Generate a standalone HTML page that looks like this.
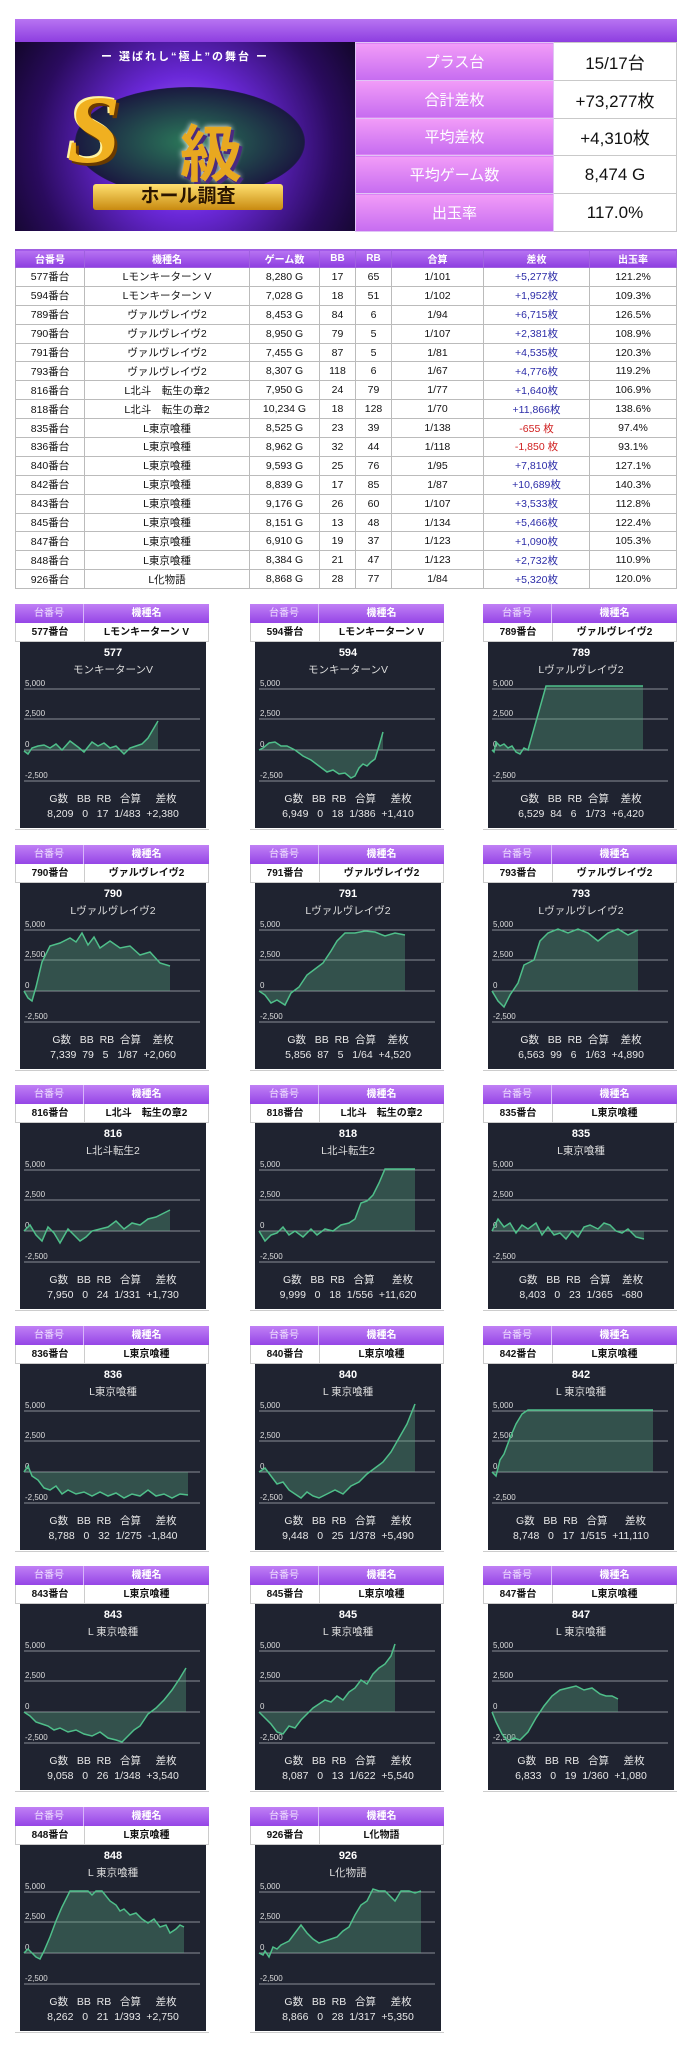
<!DOCTYPE html>
<html><head><meta charset="utf-8">
<style>
*{margin:0;padding:0;box-sizing:border-box}
body{width:696px;height:2048px;background:#fff;position:relative;overflow:hidden;font-family:"Liberation Sans","Noto Sans CJK JP",sans-serif;color:#111}
.abs{position:absolute}
.bar{left:15px;top:19px;width:662px;height:23px;background:linear-gradient(#b874f2,#8d3ee0)}
.banner{left:15px;top:42px;width:340px;height:189px;background:radial-gradient(circle at 50% 55%,#b57cff 0%,#6a28d8 35%,#2a0b5e 75%,#12062a 100%);overflow:hidden}
.stats{left:355px;top:42px;width:322px;height:189px;border-collapse:collapse}
.stats td{height:37.8px;border:1px solid #c9c9c9;text-align:center;font-size:15px}
.stats td.l{width:198px;background:linear-gradient(#f29cf8,#c66cf0);color:#fff;border-color:#e0c4f5}
.stats td.v{background:#fff;font-size:17px}
.mt{left:15px;top:249px;width:662px;border-collapse:collapse;font-size:10.5px}
.mt th{height:18px;background:linear-gradient(#b874f2,#8d3ee0);color:#fff;font-weight:bold;border:1px solid #a060e0;font-size:10px}
.mt td{height:18.9px;border:1px solid #bbb;text-align:center}
.p{color:#2c2ca8}.n{color:#d02020}
.card{position:absolute;width:194px;height:226px;border-bottom:1px solid #ccc}
.ch,.cs{display:flex;height:19px;font-size:10px;align-items:center}
.ch{background:linear-gradient(#c080f5,#9545e6);color:#fff;font-weight:bold}
.cs{background:#fff;border:1px solid #ccc;border-top:none;font-weight:bold}
.c1{width:69px;text-align:center;border-right:1px solid #ccc;height:100%;line-height:19px}
.c2{flex:1;text-align:center;line-height:19px}
.ch .c1{border-color:#d8b5fa;font-weight:normal;color:#f0e0ff}
.cp{position:absolute;left:5px;top:38px;width:186px;height:186px;background:#1f2330;color:#fff}
.cp svg{position:absolute;left:0;top:0}
.t1{position:absolute;top:5px;width:100%;text-align:center;font-size:11px;font-weight:bold}
.t2{position:absolute;top:20px;width:100%;text-align:center;font-size:10.5px;color:#ddd}
.ft{position:absolute;top:150px;width:100%;text-align:center;font-size:10.5px;color:#e8e8e8;line-height:15px;white-space:pre}
</style></head><body>
<div class="abs bar"></div>
<div class="abs banner">
 <div class="abs" style="left:0;top:6px;width:340px;text-align:center;color:#fff;font-size:11px;font-weight:bold;letter-spacing:2px">ー 選ばれし“極上”の舞台 ー</div>
 <div class="abs" style="left:60px;top:45px;width:230px;height:110px;border-radius:50%;background:radial-gradient(#2b7a5a,#1a1a40 70%,transparent 72%)"></div>
 <div class="abs" style="left:52px;top:32px;font-size:96px;font-weight:bold;font-style:italic;color:#f0b020;text-shadow:3px 3px 0 #6a3a00,-2px -2px 0 #fff3a0;font-family:'Liberation Serif',serif">S</div>
 <div class="abs" style="left:165px;top:62px;font-size:62px;font-weight:bold;color:#e8a820;text-shadow:3px 3px 0 #4a2a80,0 0 6px #fff">級</div>
 <div class="abs" style="left:78px;top:142px;width:190px;height:26px;background:linear-gradient(#ffe070,#c88a10);border-radius:3px;text-align:center;font-size:19px;font-weight:bold;color:#2a1500;line-height:26px">ホール調査</div>
</div>
<table class="abs stats">
<tr><td class="l">プラス台</td><td class="v">15/17台</td></tr>
<tr><td class="l">合計差枚</td><td class="v">+73,277枚</td></tr>
<tr><td class="l">平均差枚</td><td class="v">+4,310枚</td></tr>
<tr><td class="l">平均ゲーム数</td><td class="v">8,474 G</td></tr>
<tr><td class="l">出玉率</td><td class="v">117.0%</td></tr>
</table>
<table class="abs mt">
<tr><th style="width:69px">台番号</th><th style="width:165px">機種名</th><th style="width:70px">ゲーム数</th><th style="width:36px">BB</th><th style="width:36px">RB</th><th style="width:92px">合算</th><th style="width:106px">差枚</th><th>出玉率</th></tr>
<tr><td>577番台</td><td>Lモンキーターン V</td><td>8,280 G</td><td>17</td><td>65</td><td>1/101</td><td class="p">+5,277枚</td><td>121.2%</td></tr>
<tr><td>594番台</td><td>Lモンキーターン V</td><td>7,028 G</td><td>18</td><td>51</td><td>1/102</td><td class="p">+1,952枚</td><td>109.3%</td></tr>
<tr><td>789番台</td><td>ヴァルヴレイヴ2</td><td>8,453 G</td><td>84</td><td>6</td><td>1/94</td><td class="p">+6,715枚</td><td>126.5%</td></tr>
<tr><td>790番台</td><td>ヴァルヴレイヴ2</td><td>8,950 G</td><td>79</td><td>5</td><td>1/107</td><td class="p">+2,381枚</td><td>108.9%</td></tr>
<tr><td>791番台</td><td>ヴァルヴレイヴ2</td><td>7,455 G</td><td>87</td><td>5</td><td>1/81</td><td class="p">+4,535枚</td><td>120.3%</td></tr>
<tr><td>793番台</td><td>ヴァルヴレイヴ2</td><td>8,307 G</td><td>118</td><td>6</td><td>1/67</td><td class="p">+4,776枚</td><td>119.2%</td></tr>
<tr><td>816番台</td><td>L北斗　転生の章2</td><td>7,950 G</td><td>24</td><td>79</td><td>1/77</td><td class="p">+1,640枚</td><td>106.9%</td></tr>
<tr><td>818番台</td><td>L北斗　転生の章2</td><td>10,234 G</td><td>18</td><td>128</td><td>1/70</td><td class="p">+11,866枚</td><td>138.6%</td></tr>
<tr><td>835番台</td><td>L東京喰種</td><td>8,525 G</td><td>23</td><td>39</td><td>1/138</td><td class="n">-655 枚</td><td>97.4%</td></tr>
<tr><td>836番台</td><td>L東京喰種</td><td>8,962 G</td><td>32</td><td>44</td><td>1/118</td><td class="n">-1,850 枚</td><td>93.1%</td></tr>
<tr><td>840番台</td><td>L東京喰種</td><td>9,593 G</td><td>25</td><td>76</td><td>1/95</td><td class="p">+7,810枚</td><td>127.1%</td></tr>
<tr><td>842番台</td><td>L東京喰種</td><td>8,839 G</td><td>17</td><td>85</td><td>1/87</td><td class="p">+10,689枚</td><td>140.3%</td></tr>
<tr><td>843番台</td><td>L東京喰種</td><td>9,176 G</td><td>26</td><td>60</td><td>1/107</td><td class="p">+3,533枚</td><td>112.8%</td></tr>
<tr><td>845番台</td><td>L東京喰種</td><td>8,151 G</td><td>13</td><td>48</td><td>1/134</td><td class="p">+5,466枚</td><td>122.4%</td></tr>
<tr><td>847番台</td><td>L東京喰種</td><td>6,910 G</td><td>19</td><td>37</td><td>1/123</td><td class="p">+1,090枚</td><td>105.3%</td></tr>
<tr><td>848番台</td><td>L東京喰種</td><td>8,384 G</td><td>21</td><td>47</td><td>1/123</td><td class="p">+2,732枚</td><td>110.9%</td></tr>
<tr><td>926番台</td><td>L化物語</td><td>8,868 G</td><td>28</td><td>77</td><td>1/84</td><td class="p">+5,320枚</td><td>120.0%</td></tr>
</table>

<!-- grid template -->
<svg width="0" height="0" style="position:absolute"><defs>
<g id="grid" font-family="Liberation Sans,sans-serif" font-size="8" fill="#ddd">
<line x1="4" x2="180" y1="47" y2="47" stroke="#8a8d96" stroke-width="1"/>
<line x1="4" x2="180" y1="77" y2="77" stroke="#8a8d96" stroke-width="1"/>
<line x1="4" x2="180" y1="108" y2="108" stroke="#8a8d96" stroke-width="1"/>
<line x1="4" x2="180" y1="139" y2="139" stroke="#8a8d96" stroke-width="1"/>
</g></defs></svg>

<!-- Row 1 -->
<div class="card" style="left:15px;top:604px"><div class="ch"><span class="c1">台番号</span><span class="c2">機種名</span></div><div class="cs"><span class="c1">577番台</span><span class="c2">Lモンキーターン V</span></div>
<div class="cp"><svg width="186" height="186"><use href="#grid"/><text x="5" y="44" font-size="8" fill="#ddd">5,000</text><text x="5" y="74" font-size="8" fill="#ddd">2,500</text><text x="5" y="105" font-size="8" fill="#ddd">0</text><text x="5" y="136" font-size="8" fill="#ddd">-2,500</text>
<polygon fill="rgba(90,170,130,.35)" points="4,108 4,109 8,112 12,106 18,104 24,103 30,106 36,102 42,108 50,99 58,105 64,110 72,100 78,104 84,101 90,106 96,104 104,112 110,106 116,104 122,102 128,96 138,79 138,108"/><polyline fill="none" stroke="#4fbf8a" stroke-width="1.5" points="4,109 8,112 12,106 18,104 24,103 30,106 36,102 42,108 50,99 58,105 64,110 72,100 78,104 84,101 90,106 96,104 104,112 110,106 116,104 122,102 128,96 138,79"/></svg>
<div class="t1">577</div><div class="t2">モンキーターンV</div><div class="ft">G数   BB  RB   合算     差枚
8,209   0   17  1/483  +2,380</div></div></div>

<div class="card" style="left:250px;top:604px"><div class="ch"><span class="c1">台番号</span><span class="c2">機種名</span></div><div class="cs"><span class="c1">594番台</span><span class="c2">Lモンキーターン V</span></div>
<div class="cp"><svg width="186" height="186"><use href="#grid"/><text x="5" y="44" font-size="8" fill="#ddd">5,000</text><text x="5" y="74" font-size="8" fill="#ddd">2,500</text><text x="5" y="105" font-size="8" fill="#ddd">0</text><text x="5" y="136" font-size="8" fill="#ddd">-2,500</text>
<polygon fill="rgba(90,170,130,.35)" points="4,108 8,106 14,101 20,100 26,104 32,104 40,108 48,114 56,118 64,124 72,130 78,128 84,132 90,131 96,136 100,134 104,126 108,122 112,124 116,120 120,117 124,104 128,90 128,108"/><polyline fill="none" stroke="#4fbf8a" stroke-width="1.5" points="4,108 8,106 14,101 20,100 26,104 32,104 40,108 48,114 56,118 64,124 72,130 78,128 84,132 90,131 96,136 100,134 104,126 108,122 112,124 116,120 120,117 124,104 128,90"/></svg>
<div class="t1">594</div><div class="t2">モンキーターンV</div><div class="ft">G数   BB  RB   合算     差枚
6,949   0   18  1/386  +1,410</div></div></div>

<div class="card" style="left:483px;top:604px"><div class="ch"><span class="c1">台番号</span><span class="c2">機種名</span></div><div class="cs"><span class="c1">789番台</span><span class="c2">ヴァルヴレイヴ2</span></div>
<div class="cp"><svg width="186" height="186"><use href="#grid"/><text x="5" y="44" font-size="8" fill="#ddd">5,000</text><text x="5" y="74" font-size="8" fill="#ddd">2,500</text><text x="5" y="105" font-size="8" fill="#ddd">0</text><text x="5" y="136" font-size="8" fill="#ddd">-2,500</text>
<polygon fill="rgba(90,170,130,.35)" points="4,108 6,110 8,100 12,104 16,102 20,106 24,104 28,110 32,112 36,106 40,108 58,44 155,44 155,108"/><polyline fill="none" stroke="#4fbf8a" stroke-width="1.5" points="4,108 6,110 8,100 12,104 16,102 20,106 24,104 28,110 32,112 36,106 40,108 58,44 155,44"/></svg>
<div class="t1">789</div><div class="t2">Lヴァルヴレイヴ2</div><div class="ft">G数   BB  RB  合算    差枚
6,529  84   6   1/73  +6,420</div></div></div>

<!-- Row 2 -->
<div class="card" style="left:15px;top:845px"><div class="ch"><span class="c1">台番号</span><span class="c2">機種名</span></div><div class="cs"><span class="c1">790番台</span><span class="c2">ヴァルヴレイヴ2</span></div>
<div class="cp"><svg width="186" height="186"><use href="#grid"/><text x="5" y="44" font-size="8" fill="#ddd">5,000</text><text x="5" y="74" font-size="8" fill="#ddd">2,500</text><text x="5" y="105" font-size="8" fill="#ddd">0</text><text x="5" y="136" font-size="8" fill="#ddd">-2,500</text>
<polygon fill="rgba(90,170,130,.35)" points="4,108 8,115 12,118 16,104 22,79 30,63 40,60 50,55 56,59 62,50 68,62 74,54 80,65 90,58 100,65 110,63 120,72 130,69 140,80 150,83 150,108"/><polyline fill="none" stroke="#4fbf8a" stroke-width="1.5" points="4,108 8,115 12,118 16,104 22,79 30,63 40,60 50,55 56,59 62,50 68,62 74,54 80,65 90,58 100,65 110,63 120,72 130,69 140,80 150,83"/></svg>
<div class="t1">790</div><div class="t2">Lヴァルヴレイヴ2</div><div class="ft">G数   BB  RB  合算    差枚
7,339  79   5   1/87  +2,060</div></div></div>

<div class="card" style="left:250px;top:845px"><div class="ch"><span class="c1">台番号</span><span class="c2">機種名</span></div><div class="cs"><span class="c1">791番台</span><span class="c2">ヴァルヴレイヴ2</span></div>
<div class="cp"><svg width="186" height="186"><use href="#grid"/><text x="5" y="44" font-size="8" fill="#ddd">5,000</text><text x="5" y="74" font-size="8" fill="#ddd">2,500</text><text x="5" y="105" font-size="8" fill="#ddd">0</text><text x="5" y="136" font-size="8" fill="#ddd">-2,500</text>
<polygon fill="rgba(90,170,130,.35)" points="4,108 10,112 16,120 22,117 30,122 36,110 44,104 52,92 60,86 68,80 76,68 82,58 90,50 100,50 110,48 120,49 130,53 140,50 150,52 150,108"/><polyline fill="none" stroke="#4fbf8a" stroke-width="1.5" points="4,108 10,112 16,120 22,117 30,122 36,110 44,104 52,92 60,86 68,80 76,68 82,58 90,50 100,50 110,48 120,49 130,53 140,50 150,52"/></svg>
<div class="t1">791</div><div class="t2">Lヴァルヴレイヴ2</div><div class="ft">G数   BB  RB  合算    差枚
5,856  87   5   1/64  +4,520</div></div></div>

<div class="card" style="left:483px;top:845px"><div class="ch"><span class="c1">台番号</span><span class="c2">機種名</span></div><div class="cs"><span class="c1">793番台</span><span class="c2">ヴァルヴレイヴ2</span></div>
<div class="cp"><svg width="186" height="186"><use href="#grid"/><text x="5" y="44" font-size="8" fill="#ddd">5,000</text><text x="5" y="74" font-size="8" fill="#ddd">2,500</text><text x="5" y="105" font-size="8" fill="#ddd">0</text><text x="5" y="136" font-size="8" fill="#ddd">-2,500</text>
<polygon fill="rgba(90,170,130,.35)" points="4,108 10,118 16,124 22,112 30,100 36,82 46,77 52,58 60,50 70,46 80,50 90,46 100,50 110,58 120,50 130,46 140,52 150,47 150,108"/><polyline fill="none" stroke="#4fbf8a" stroke-width="1.5" points="4,108 10,118 16,124 22,112 30,100 36,82 46,77 52,58 60,50 70,46 80,50 90,46 100,50 110,58 120,50 130,46 140,52 150,47"/></svg>
<div class="t1">793</div><div class="t2">Lヴァルヴレイヴ2</div><div class="ft">G数   BB  RB  合算    差枚
6,563  99   6   1/63  +4,890</div></div></div>

<!-- Row 3 -->
<div class="card" style="left:15px;top:1085px"><div class="ch"><span class="c1">台番号</span><span class="c2">機種名</span></div><div class="cs"><span class="c1">816番台</span><span class="c2">L北斗　転生の章2</span></div>
<div class="cp"><svg width="186" height="186"><use href="#grid"/><text x="5" y="44" font-size="8" fill="#ddd">5,000</text><text x="5" y="74" font-size="8" fill="#ddd">2,500</text><text x="5" y="105" font-size="8" fill="#ddd">0</text><text x="5" y="136" font-size="8" fill="#ddd">-2,500</text>
<polygon fill="rgba(90,170,130,.35)" points="4,108 10,102 16,112 22,118 28,104 34,110 40,120 48,106 54,112 60,118 66,114 72,108 80,106 88,104 96,98 104,106 112,100 120,102 128,96 136,94 144,90 150,87 150,108"/><polyline fill="none" stroke="#4fbf8a" stroke-width="1.5" points="4,108 10,102 16,112 22,118 28,104 34,110 40,120 48,106 54,112 60,118 66,114 72,108 80,106 88,104 96,98 104,106 112,100 120,102 128,96 136,94 144,90 150,87"/></svg>
<div class="t1">816</div><div class="t2">L北斗転生2</div><div class="ft">G数   BB  RB   合算     差枚
7,950   0   24  1/331  +1,730</div></div></div>

<div class="card" style="left:250px;top:1085px"><div class="ch"><span class="c1">台番号</span><span class="c2">機種名</span></div><div class="cs"><span class="c1">818番台</span><span class="c2">L北斗　転生の章2</span></div>
<div class="cp"><svg width="186" height="186"><use href="#grid"/><text x="5" y="44" font-size="8" fill="#ddd">5,000</text><text x="5" y="74" font-size="8" fill="#ddd">2,500</text><text x="5" y="105" font-size="8" fill="#ddd">0</text><text x="5" y="136" font-size="8" fill="#ddd">-2,500</text>
<polygon fill="rgba(90,170,130,.35)" points="4,108 10,118 16,112 22,110 28,104 34,112 40,108 48,114 56,106 62,112 70,106 78,108 86,102 94,100 100,96 106,80 112,78 118,72 124,60 130,46 160,46 160,108"/><polyline fill="none" stroke="#4fbf8a" stroke-width="1.5" points="4,108 10,118 16,112 22,110 28,104 34,112 40,108 48,114 56,106 62,112 70,106 78,108 86,102 94,100 100,96 106,80 112,78 118,72 124,60 130,46 160,46"/></svg>
<div class="t1">818</div><div class="t2">L北斗転生2</div><div class="ft">G数   BB  RB   合算      差枚
9,999   0   18  1/556  +11,620</div></div></div>

<div class="card" style="left:483px;top:1085px"><div class="ch"><span class="c1">台番号</span><span class="c2">機種名</span></div><div class="cs"><span class="c1">835番台</span><span class="c2">L東京喰種</span></div>
<div class="cp"><svg width="186" height="186"><use href="#grid"/><text x="5" y="44" font-size="8" fill="#ddd">5,000</text><text x="5" y="74" font-size="8" fill="#ddd">2,500</text><text x="5" y="105" font-size="8" fill="#ddd">0</text><text x="5" y="136" font-size="8" fill="#ddd">-2,500</text>
<polygon fill="rgba(90,170,130,.35)" points="4,108 10,96 16,104 22,100 28,110 34,102 40,106 48,100 54,112 60,104 66,112 72,110 78,116 84,108 90,114 96,104 102,102 110,106 116,100 122,102 128,108 134,110 140,106 148,114 156,116 156,108"/><polyline fill="none" stroke="#4fbf8a" stroke-width="1.5" points="4,108 10,96 16,104 22,100 28,110 34,102 40,106 48,100 54,112 60,104 66,112 72,110 78,116 84,108 90,114 96,104 102,102 110,106 116,100 122,102 128,108 134,110 140,106 148,114 156,116"/></svg>
<div class="t1">835</div><div class="t2">L東京喰種</div><div class="ft">G数   BB  RB   合算    差枚
8,403   0   23  1/365   -680</div></div></div>

<!-- Row 4 -->
<div class="card" style="left:15px;top:1326px"><div class="ch"><span class="c1">台番号</span><span class="c2">機種名</span></div><div class="cs"><span class="c1">836番台</span><span class="c2">L東京喰種</span></div>
<div class="cp"><svg width="186" height="186"><use href="#grid"/><text x="5" y="44" font-size="8" fill="#ddd">5,000</text><text x="5" y="74" font-size="8" fill="#ddd">2,500</text><text x="5" y="105" font-size="8" fill="#ddd">0</text><text x="5" y="136" font-size="8" fill="#ddd">-2,500</text>
<polygon fill="rgba(90,170,130,.35)" points="4,108 8,102 12,112 18,116 24,124 30,126 36,122 42,130 48,126 56,130 64,128 72,132 80,128 88,132 96,129 104,134 112,130 120,132 128,126 136,132 144,130 152,134 160,130 168,131 168,108"/><polyline fill="none" stroke="#4fbf8a" stroke-width="1.5" points="4,108 8,102 12,112 18,116 24,124 30,126 36,122 42,130 48,126 56,130 64,128 72,132 80,128 88,132 96,129 104,134 112,130 120,132 128,126 136,132 144,130 152,134 160,130 168,131"/></svg>
<div class="t1">836</div><div class="t2">L東京喰種</div><div class="ft">G数   BB  RB   合算     差枚
8,788   0   32  1/275  -1,840</div></div></div>

<div class="card" style="left:250px;top:1326px"><div class="ch"><span class="c1">台番号</span><span class="c2">機種名</span></div><div class="cs"><span class="c1">840番台</span><span class="c2">L東京喰種</span></div>
<div class="cp"><svg width="186" height="186"><use href="#grid"/><text x="5" y="44" font-size="8" fill="#ddd">5,000</text><text x="5" y="74" font-size="8" fill="#ddd">2,500</text><text x="5" y="105" font-size="8" fill="#ddd">0</text><text x="5" y="136" font-size="8" fill="#ddd">-2,500</text>
<polygon fill="rgba(90,170,130,.35)" points="4,108 10,104 16,112 22,120 28,118 34,126 40,130 46,134 52,128 58,132 64,134 72,130 80,126 88,130 96,122 104,118 112,110 120,104 128,98 136,88 144,74 152,60 160,40 160,108"/><polyline fill="none" stroke="#4fbf8a" stroke-width="1.5" points="4,108 10,104 16,112 22,120 28,118 34,126 40,130 46,134 52,128 58,132 64,134 72,130 80,126 88,130 96,122 104,118 112,110 120,104 128,98 136,88 144,74 152,60 160,40"/></svg>
<div class="t1">840</div><div class="t2">L 東京喰種</div><div class="ft">G数   BB  RB   合算     差枚
9,448   0   25  1/378  +5,490</div></div></div>

<div class="card" style="left:483px;top:1326px"><div class="ch"><span class="c1">台番号</span><span class="c2">機種名</span></div><div class="cs"><span class="c1">842番台</span><span class="c2">L東京喰種</span></div>
<div class="cp"><svg width="186" height="186"><use href="#grid"/><text x="5" y="44" font-size="8" fill="#ddd">5,000</text><text x="5" y="74" font-size="8" fill="#ddd">2,500</text><text x="5" y="105" font-size="8" fill="#ddd">0</text><text x="5" y="136" font-size="8" fill="#ddd">-2,500</text>
<polygon fill="rgba(90,170,130,.35)" points="4,108 8,112 12,96 16,90 22,74 28,60 34,50 40,46 165,46 165,108"/><polyline fill="none" stroke="#4fbf8a" stroke-width="1.5" points="4,108 8,112 12,96 16,90 22,74 28,60 34,50 40,46 165,46"/></svg>
<div class="t1">842</div><div class="t2">L 東京喰種</div><div class="ft">G数   BB  RB   合算      差枚
8,748   0   17  1/515  +11,110</div></div></div>

<!-- Row 5 -->
<div class="card" style="left:15px;top:1566px"><div class="ch"><span class="c1">台番号</span><span class="c2">機種名</span></div><div class="cs"><span class="c1">843番台</span><span class="c2">L東京喰種</span></div>
<div class="cp"><svg width="186" height="186"><use href="#grid"/><text x="5" y="44" font-size="8" fill="#ddd">5,000</text><text x="5" y="74" font-size="8" fill="#ddd">2,500</text><text x="5" y="105" font-size="8" fill="#ddd">0</text><text x="5" y="136" font-size="8" fill="#ddd">-2,500</text>
<polygon fill="rgba(90,170,130,.35)" points="4,108 10,112 16,118 22,120 28,122 34,126 40,124 48,128 56,126 64,130 72,132 80,128 88,134 96,136 102,138 108,132 114,126 120,122 128,110 136,104 144,96 152,86 160,74 166,64 166,108"/><polyline fill="none" stroke="#4fbf8a" stroke-width="1.5" points="4,108 10,112 16,118 22,120 28,122 34,126 40,124 48,128 56,126 64,130 72,132 80,128 88,134 96,136 102,138 108,132 114,126 120,122 128,110 136,104 144,96 152,86 160,74 166,64"/></svg>
<div class="t1">843</div><div class="t2">L 東京喰種</div><div class="ft">G数   BB  RB   合算     差枚
9,058   0   26  1/348  +3,540</div></div></div>

<div class="card" style="left:250px;top:1566px"><div class="ch"><span class="c1">台番号</span><span class="c2">機種名</span></div><div class="cs"><span class="c1">845番台</span><span class="c2">L東京喰種</span></div>
<div class="cp"><svg width="186" height="186"><use href="#grid"/><text x="5" y="44" font-size="8" fill="#ddd">5,000</text><text x="5" y="74" font-size="8" fill="#ddd">2,500</text><text x="5" y="105" font-size="8" fill="#ddd">0</text><text x="5" y="136" font-size="8" fill="#ddd">-2,500</text>
<polygon fill="rgba(90,170,130,.35)" points="4,108 10,114 16,120 22,128 28,130 34,122 40,124 46,116 52,110 58,104 64,100 70,96 76,98 82,92 88,96 94,88 100,84 106,76 112,80 118,70 124,64 130,60 136,52 140,40 140,108"/><polyline fill="none" stroke="#4fbf8a" stroke-width="1.5" points="4,108 10,114 16,120 22,128 28,130 34,122 40,124 46,116 52,110 58,104 64,100 70,96 76,98 82,92 88,96 94,88 100,84 106,76 112,80 118,70 124,64 130,60 136,52 140,40"/></svg>
<div class="t1">845</div><div class="t2">L 東京喰種</div><div class="ft">G数   BB  RB   合算     差枚
8,087   0   13  1/622  +5,540</div></div></div>

<div class="card" style="left:483px;top:1566px"><div class="ch"><span class="c1">台番号</span><span class="c2">機種名</span></div><div class="cs"><span class="c1">847番台</span><span class="c2">L東京喰種</span></div>
<div class="cp"><svg width="186" height="186"><use href="#grid"/><text x="5" y="44" font-size="8" fill="#ddd">5,000</text><text x="5" y="74" font-size="8" fill="#ddd">2,500</text><text x="5" y="105" font-size="8" fill="#ddd">0</text><text x="5" y="136" font-size="8" fill="#ddd">-2,500</text>
<polygon fill="rgba(90,170,130,.35)" points="4,108 8,118 14,130 20,138 26,134 32,136 40,128 48,114 56,102 64,92 72,86 80,84 88,82 96,86 104,84 112,90 118,92 124,92 130,95 130,108"/><polyline fill="none" stroke="#4fbf8a" stroke-width="1.5" points="4,108 8,118 14,130 20,138 26,134 32,136 40,128 48,114 56,102 64,92 72,86 80,84 88,82 96,86 104,84 112,90 118,92 124,92 130,95"/></svg>
<div class="t1">847</div><div class="t2">L 東京喰種</div><div class="ft">G数   BB  RB   合算     差枚
6,833   0   19  1/360  +1,080</div></div></div>

<!-- Row 6 -->
<div class="card" style="left:15px;top:1807px"><div class="ch"><span class="c1">台番号</span><span class="c2">機種名</span></div><div class="cs"><span class="c1">848番台</span><span class="c2">L東京喰種</span></div>
<div class="cp"><svg width="186" height="186"><use href="#grid"/><text x="5" y="44" font-size="8" fill="#ddd">5,000</text><text x="5" y="74" font-size="8" fill="#ddd">2,500</text><text x="5" y="105" font-size="8" fill="#ddd">0</text><text x="5" y="136" font-size="8" fill="#ddd">-2,500</text>
<polygon fill="rgba(90,170,130,.35)" points="4,108 8,104 12,108 16,112 20,114 24,106 30,92 36,76 42,62 50,46 68,46 72,50 76,46 82,46 90,56 96,60 100,66 104,64 110,70 116,68 122,74 128,78 134,74 140,82 146,80 150,88 156,84 160,80 164,82 164,108"/><polyline fill="none" stroke="#4fbf8a" stroke-width="1.5" points="4,108 8,104 12,108 16,112 20,114 24,106 30,92 36,76 42,62 50,46 68,46 72,50 76,46 82,46 90,56 96,60 100,66 104,64 110,70 116,68 122,74 128,78 134,74 140,82 146,80 150,88 156,84 160,80 164,82"/></svg>
<div class="t1">848</div><div class="t2">L 東京喰種</div><div class="ft">G数   BB  RB   合算     差枚
8,262   0   21  1/393  +2,750</div></div></div>

<div class="card" style="left:250px;top:1807px"><div class="ch"><span class="c1">台番号</span><span class="c2">機種名</span></div><div class="cs"><span class="c1">926番台</span><span class="c2">L化物語</span></div>
<div class="cp"><svg width="186" height="186"><use href="#grid"/><text x="5" y="44" font-size="8" fill="#ddd">5,000</text><text x="5" y="74" font-size="8" fill="#ddd">2,500</text><text x="5" y="105" font-size="8" fill="#ddd">0</text><text x="5" y="136" font-size="8" fill="#ddd">-2,500</text>
<polygon fill="rgba(90,170,130,.35)" points="4,108 8,110 10,106 14,112 18,102 22,104 26,100 30,98 34,96 40,88 46,80 52,88 58,94 64,98 70,96 76,94 82,92 88,86 94,82 100,70 106,60 112,56 118,44 124,46 130,46 136,52 140,56 146,46 154,46 160,48 166,46 166,108"/><polyline fill="none" stroke="#4fbf8a" stroke-width="1.5" points="4,108 8,110 10,106 14,112 18,102 22,104 26,100 30,98 34,96 40,88 46,80 52,88 58,94 64,98 70,96 76,94 82,92 88,86 94,82 100,70 106,60 112,56 118,44 124,46 130,46 136,52 140,56 146,46 154,46 160,48 166,46"/></svg>
<div class="t1">926</div><div class="t2">L化物語</div><div class="ft">G数   BB  RB   合算     差枚
8,866   0   28  1/317  +5,350</div></div></div>

</body></html>
